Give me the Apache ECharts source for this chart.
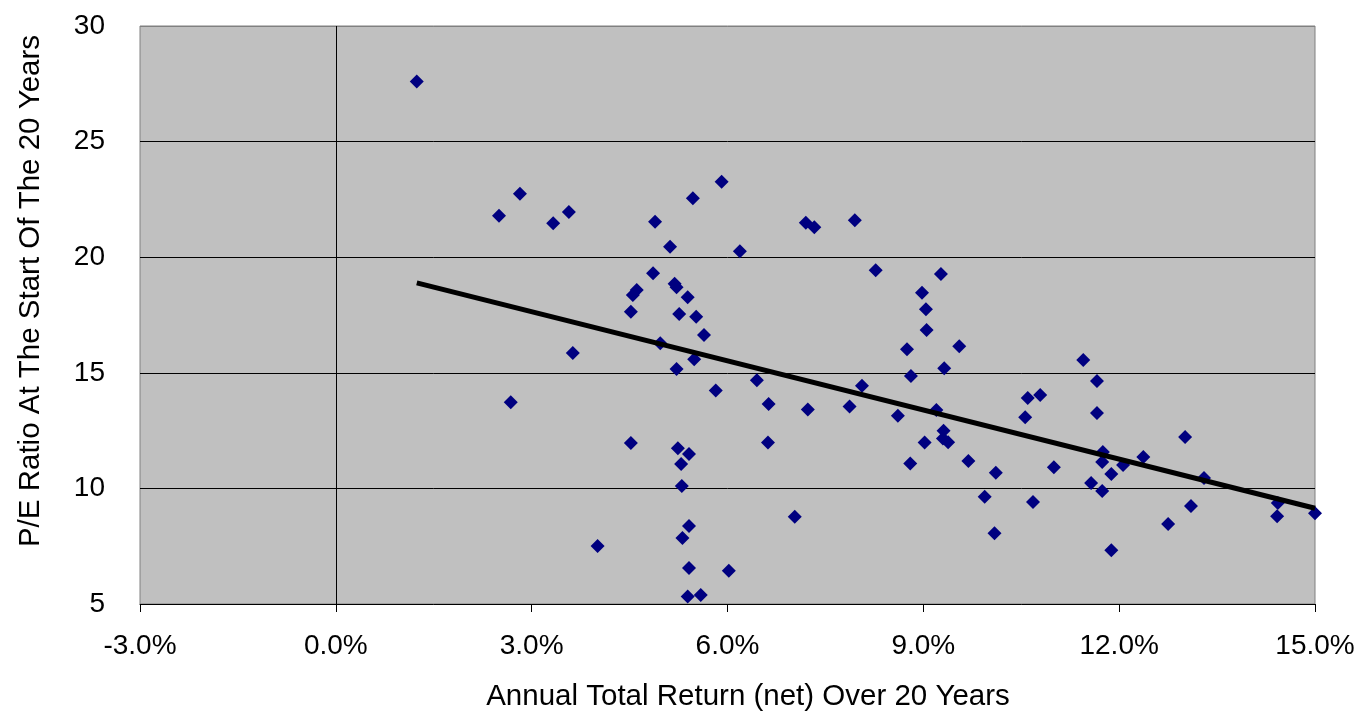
<!DOCTYPE html>
<html>
<head>
<meta charset="utf-8">
<script src="https://cdn.jsdelivr.net/npm/echarts@6/dist/echarts.min.js"></script>
<style>
html,body{margin:0;padding:0;background:#fff;}
#chart{width:1361px;height:715px;}
</style>
</head>
<body>
<div id="chart"></div>
<script>
// Annual total return (net) over 20 years, %
const returnPct = [1.24,2.50,2.82,3.33,3.57,2.68,3.63,4.01,4.52,4.55,4.61,4.52,4.89,4.86,4.97,5.12,5.19,5.22,5.26,5.22,
  5.24,5.41,5.29,5.30,5.31,5.39,5.41,5.41,5.39,5.59,5.47,5.52,5.49,5.64,5.82,5.91,6.19,6.02,6.45,6.63,
  6.62,7.03,7.20,7.33,7.23,7.87,7.95,8.06,8.27,8.61,8.75,8.81,8.80,8.98,9.04,9.05,9.02,9.20,9.27,9.32,
  9.31,9.30,9.38,9.55,9.69,9.94,10.11,10.09,11.45,11.66,10.60,10.79,10.56,11.66,13.01,11.75,12.37,11.74,11.00,12.06,
  11.88,13.30,11.57,11.74,10.68,13.10,14.43,14.42,15.00,12.75,11.88];
// P/E ratio at the start of the 20 years
const peRatio = [27.6,21.79,22.74,21.47,21.95,13.73,15.86,7.51,17.64,18.36,18.58,11.96,21.53,19.31,16.28,20.45,18.85,18.70,17.54,15.16,
  11.74,11.49,11.05,10.10,7.85,18.27,8.37,6.56,5.32,5.39,22.55,17.42,15.59,16.63,14.23,23.26,20.26,6.44,14.68,13.65,
  11.99,8.77,21.49,21.30,13.41,13.54,21.60,14.44,19.44,13.14,16.02,14.86,11.08,18.46,17.75,16.85,11.99,13.39,19.27,15.20,
  12.49,12.16,12.00,16.15,11.18,9.64,10.68,8.06,15.55,14.64,13.91,14.04,13.08,13.26,12.22,11.57,11.36,11.14,10.92,11.01,
  10.62,10.45,10.23,9.89,9.41,9.24,9.37,8.80,8.93,8.46,7.33];
// Linear trend line end points
const trendX = [1.24, 15.0];
const trendY = [18.89, 9.14];

const xTitle = 'Annual Total Return (net) Over 20 Years';
const yTitle = 'P/E Ratio At The Start Of The 20 Years';

const FONT = '"Liberation Sans", Arial, sans-serif';
const chart = echarts.init(document.getElementById('chart'), null, {renderer:'canvas'});

const points = returnPct.map((x,i)=>[x, peRatio[i]]);
const trend = trendX.map((x,i)=>[x, trendY[i]]);

chart.setOption({
  animation:false,
  backgroundColor:'#ffffff',
  grid:{left:140, right:46, top:26, bottom:111, show:true, backgroundColor:'#c0c0c0', borderColor:'#808080', borderWidth:1},
  xAxis:{
    type:'value', min:-3, max:15, interval:3,
    axisLine:{show:true, onZero:false, lineStyle:{color:'#000', width:1}},
    axisTick:{show:true, inside:false, length:8, lineStyle:{color:'#000'}},
    axisLabel:{color:'#000', fontSize:28, fontFamily:FONT, margin:28, formatter:v=>v.toFixed(1)+'%'},
    splitLine:{show:false}
  },
  yAxis:{
    type:'value', min:5, max:30, interval:5,
    axisLine:{show:false},
    axisTick:{show:false},
    axisLabel:{color:'#000', fontSize:28, fontFamily:FONT, margin:35},
    splitLine:{show:true, lineStyle:{color:['#808080','#000','#000','#000','#000','#808080'], width:1}}
  },
  graphic:[
    {type:'text', x:748, y:697, style:{text:xTitle, fill:'#000', font:'29.5px '+FONT, textAlign:'center', textVerticalAlign:'middle'}},
    {type:'text', x:31, y:291, rotation:Math.PI/2, style:{text:yTitle, fill:'#000', font:'29.5px '+FONT, textAlign:'center', textVerticalAlign:'middle'}}
  ],
  series:[
    {
      type:'scatter', data:points, symbol:'diamond', symbolSize:14,
      itemStyle:{color:'#000080', opacity:1},
      markLine:{silent:true, symbol:'none', label:{show:false}, lineStyle:{color:'#000', width:1, type:'solid'}, data:[{xAxis:0}]},
      z:2
    },
    {
      type:'line', data:trend, showSymbol:false, symbol:'none',
      lineStyle:{color:'#000', width:5}, z:3
    }
  ]
});
</script>
</body>
</html>
